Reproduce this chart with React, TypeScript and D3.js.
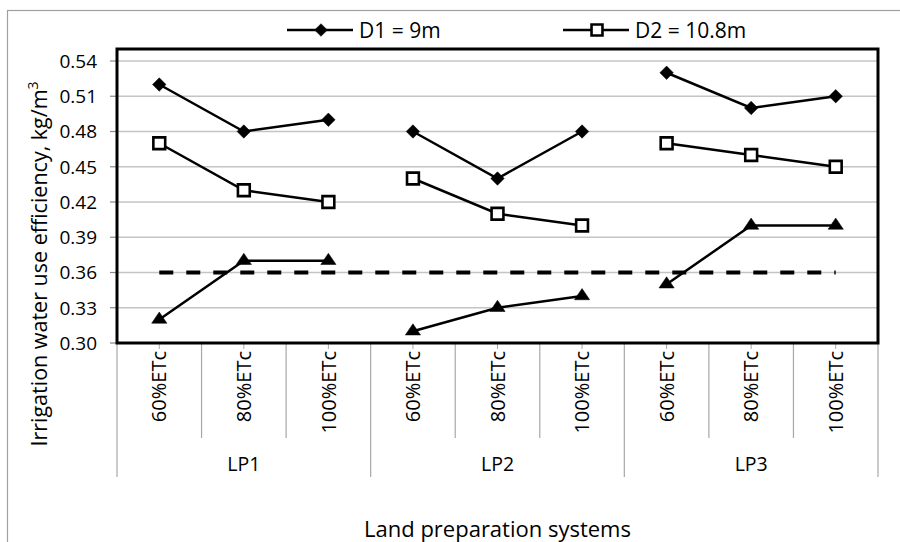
import React, { useEffect, useRef } from 'react';
import * as d3 from 'd3';

const groups = ['LP1', 'LP2', 'LP3'];
const levels = ['60%ETc', '80%ETc', '100%ETc'];

// values per group, in level order
const d1Values = [0.52, 0.48, 0.49, 0.48, 0.44, 0.48, 0.53, 0.5, 0.51];
const d2Values = [0.47, 0.43, 0.42, 0.44, 0.41, 0.4, 0.47, 0.46, 0.45];
const d3Values = [0.32, 0.37, 0.37, 0.31, 0.33, 0.34, 0.35, 0.4, 0.4];
const refValue = 0.36;

const yTicks = [0.3, 0.33, 0.36, 0.39, 0.42, 0.45, 0.48, 0.51, 0.54];

const FONT = '"Open Sans", sans-serif';

const App = () => {
  const ref = useRef<SVGSVGElement | null>(null);

  useEffect(() => {
    document.body.style.margin = '0';
    if (!ref.current) return;
    const svg = d3.select(ref.current);
    svg.selectAll('*').remove();

    const left = 117;
    const right = 878;
    const top = 49;
    const bottom = 343;

    const cats = groups.flatMap((g) => levels.map((l) => `${g}|${l}`));
    const x = d3.scaleBand<string>().domain(cats).range([left, right]).padding(0);
    const y = d3.scaleLinear().domain([0.3, 0.54]).range([bottom, 61]);
    const cx = (i: number) => x(cats[i])! + x.bandwidth() / 2;

    // outer chart border
    svg
      .append('rect')
      .attr('x', 7.5)
      .attr('y', 10.5)
      .attr('width', 910)
      .attr('height', 560)
      .attr('fill', 'white')
      .attr('stroke', '#a0a0a0')
      .attr('stroke-width', 1.2);

    // gridlines
    svg
      .append('g')
      .selectAll('line')
      .data(yTicks.slice(1))
      .enter()
      .append('line')
      .attr('x1', left)
      .attr('x2', right)
      .attr('y1', (d) => y(d))
      .attr('y2', (d) => y(d))
      .attr('stroke', '#c4c4c4')
      .attr('stroke-width', 1.5);

    // y axis ticks and labels
    const ya = svg.append('g');
    yTicks.forEach((t) => {
      ya.append('line')
        .attr('x1', left - 7)
        .attr('x2', left)
        .attr('y1', y(t))
        .attr('y2', y(t))
        .attr('stroke', '#888')
        .attr('stroke-width', 1.2);
      ya.append('text')
        .attr('x', 97)
        .attr('y', y(t))
        .attr('dy', '0.36em')
        .attr('text-anchor', 'end')
        .attr('font-family', FONT)
        .attr('font-size', 19)
        .text(t.toFixed(2));
    });

    // x axis category separators
    const xa = svg.append('g');
    d3.range(cats.length + 1).forEach((i) => {
      const xx = i === cats.length ? right : x(cats[i])!;
      const long = i % 3 === 0;
      xa.append('line')
        .attr('x1', xx)
        .attr('x2', xx)
        .attr('y1', bottom)
        .attr('y2', long ? 477 : 438)
        .attr('stroke', '#a8a8a8')
        .attr('stroke-width', 1.2);
    });
    cats.forEach((c, i) => {
      xa.append('line')
        .attr('x1', cx(i))
        .attr('x2', cx(i))
        .attr('y1', bottom)
        .attr('y2', bottom + 6)
        .attr('stroke', '#a8a8a8');
      xa.append('text')
        .attr('transform', `translate(${cx(i)},${351}) rotate(-90)`)
        .attr('dy', '0.36em')
        .attr('text-anchor', 'end')
        .attr('font-family', FONT)
        .attr('font-size', 20)
        .text(c.split('|')[1]);
    });
    groups.forEach((g, gi) => {
      const gx = (x(cats[gi * 3])! + (x(cats[gi * 3 + 2])! + x.bandwidth())) / 2;
      xa.append('text')
        .attr('x', gx)
        .attr('y', 471)
        .attr('text-anchor', 'middle')
        .attr('font-family', FONT)
        .attr('font-size', 19.5)
        .text(g);
    });

    // axis titles
    svg
      .append('text')
      .attr('x', (left + right) / 2)
      .attr('y', 537)
      .attr('text-anchor', 'middle')
      .attr('font-family', FONT)
      .attr('font-size', 22)
      .text('Land preparation systems');

    const yt = svg
      .append('text')
      .attr('transform', `translate(47,${264}) rotate(-90)`)
      .attr('text-anchor', 'middle')
      .attr('font-family', FONT)
      .attr('font-size', 21.5);
    yt.append('tspan').text('Irrigation water use efficiency, kg/m');
    yt.append('tspan').attr('dy', -9).attr('font-size', 14).text('3');

    // reference dashed line
    svg
      .append('line')
      .attr('x1', cx(0))
      .attr('x2', cx(cats.length - 1))
      .attr('y1', y(refValue))
      .attr('y2', y(refValue))
      .attr('stroke', 'black')
      .attr('stroke-width', 4)
      .attr('stroke-dasharray', '14,13');

    const series = [
      { values: d1Values, symbol: d3.symbolSquare, size: 90, fill: 'black', rot: 45, sx: 1, sy: 1 },
      { values: d2Values, symbol: d3.symbolSquare, size: 140, fill: 'white', rot: 0, sx: 1, sy: 1 },
      { values: d3Values, symbol: d3.symbolTriangle, size: 80, fill: 'black', rot: 0, sx: 1.12, sy: 0.95 },
    ];

    series.forEach((s) => {
      groups.forEach((_, gi) => {
        const idx = [gi * 3, gi * 3 + 1, gi * 3 + 2];
        const lg = d3
          .line<number>()
          .x((i) => cx(i))
          .y((i) => y(s.values[i]));
        svg
          .append('path')
          .attr('d', lg(idx))
          .attr('fill', 'none')
          .attr('stroke', 'black')
          .attr('stroke-width', 2.5);
      });
      s.values.forEach((v, i) => {
        svg
          .append('path')
          .attr('d', d3.symbol(s.symbol, s.size)()!)
          .attr(
            'transform',
            `translate(${cx(i)},${y(v)}) rotate(${s.rot}) scale(${s.sx},${s.sy})`
          )
          .attr('fill', s.fill)
          .attr('stroke', 'black')
          .attr('stroke-width', s.fill === 'white' ? 2.6 : 0.5);
      });
    });

    // plot area border
    svg
      .append('rect')
      .attr('x', left)
      .attr('y', top)
      .attr('width', right - left)
      .attr('height', bottom - top)
      .attr('fill', 'none')
      .attr('stroke', 'black')
      .attr('stroke-width', 3);

    // legend
    const legend = [
      { label: 'D1 = 9m', x0: 287, symbol: d3.symbolSquare, size: 80, fill: 'black', rot: 45 },
      { label: 'D2 = 10.8m', x0: 563, symbol: d3.symbolSquare, size: 120, fill: 'white', rot: 0 },
    ];
    legend.forEach((l) => {
      const g = svg.append('g');
      g.append('line')
        .attr('x1', l.x0)
        .attr('x2', l.x0 + 66)
        .attr('y1', 30)
        .attr('y2', 30)
        .attr('stroke', 'black')
        .attr('stroke-width', 2.5);
      g.append('path')
        .attr('d', d3.symbol(l.symbol, l.size)()!)
        .attr('transform', `translate(${l.x0 + 34},30) rotate(${l.rot})`)
        .attr('fill', l.fill)
        .attr('stroke', 'black')
        .attr('stroke-width', l.fill === 'white' ? 2.6 : 0.5);
      g.append('text')
        .attr('x', l.x0 + 72)
        .attr('y', 30)
        .attr('dy', '0.36em')
        .attr('font-family', FONT)
        .attr('font-size', 21)
        .text(l.label);
    });
  }, []);

  return <svg ref={ref} width={900} height={542} style={{ display: 'block' }} />;
};

export default App;
